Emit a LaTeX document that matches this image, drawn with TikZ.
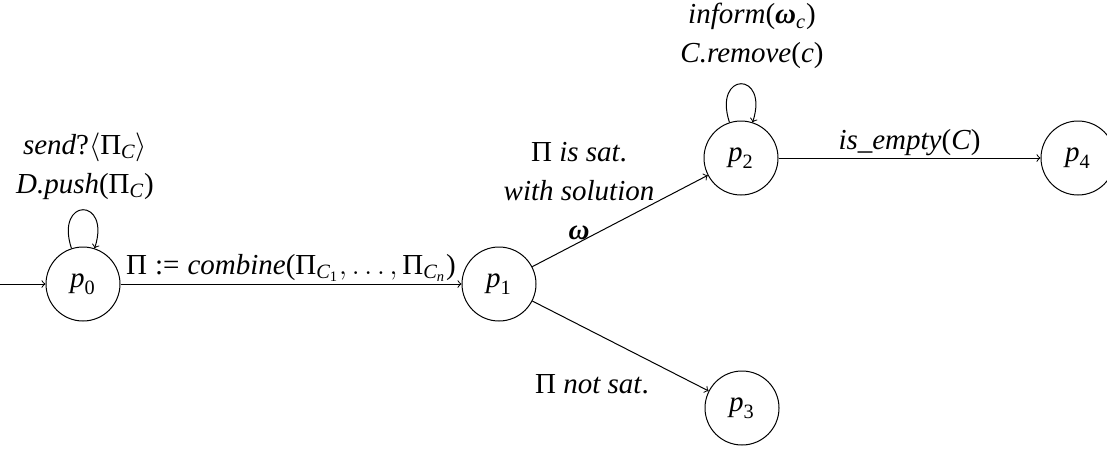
\documentclass[tikz,border=0pt]{standalone}
\usepackage{amsmath}
\usepackage{fontspec}
\setmainfont{Liberation Serif}[ItalicFont={Liberation Serif Italic},BoldFont={Liberation Serif Bold},BoldItalicFont={Liberation Serif Bold Italic}]
\newcommand\V[1]{\text{\itshape #1}}
\newcommand\U[1]{\text{\upshape #1}}
\newcommand\W{\text{\bfseries\itshape ω}}
\begin{document}
\begin{tikzpicture}[x=0.5pt,y=-0.5pt,
  state/.style={draw,circle,minimum size=37pt,inner sep=0pt,line width=0.5pt},
  conn/.style={->,line width=0.5pt},
  lbl/.style={align=center,inner sep=1pt},
  font=\fontsize{14.5}{19.3}\selectfont]
\useasboundingbox (0,0) rectangle (1107,450);
\node[state] (p0) at (83,284) {$\V{p}_{\U{0}}$};
\node[state] (p1) at (499,284) {$\V{p}_{\U{1}}$};
\node[state] (p2) at (741,158) {$\V{p}_{\U{2}}$};
\node[state] (p3) at (742,408) {$\V{p}_{\U{3}}$};
\node[state] (p4) at (1078,158) {$\V{p}_{\U{4}}$};
\coordinate (init) at (0,284);
\draw[conn] (init) -- (p0);
\draw[conn] (p0.108) .. controls +(108:27pt) and +(72:27pt) .. (p0.72);
\draw[conn] (p2.108) .. controls +(108:27pt) and +(72:27pt) .. (p2.72);
\draw[conn] (p0) -- node[midway,above,lbl] {$\U{Π}\mathrel{\U{:=}}\V{combine}\U{(}\U{Π}_{\V{C}_{\U{1}}},\ldots,\U{Π}_{\V{C}_{\V{n}}}\U{)}$} (p1);
\draw[conn] (p1) -- (p2);
\draw[conn] (p1) -- (p3);
\draw[conn] (p2) -- node[midway,above,lbl] {\textit{is\_empty}(\textit{C})} (p4);
\node[lbl] (l0) at (85,166) {$\V{send}\U{?}\langle\U{Π}_{\V{C}}\rangle$\\$\V{D.push}\U{(}\U{Π}_{\V{C}}\U{)}$};
\node[lbl] (l2) at (752,36) {$\V{inform}\U{(}\W_{\V{c}}\U{)}$\\\textit{C.remove}(\textit{c})};
\node[lbl] (lsat) at (579,191) {Π \textit{is sat}.\\\textit{with solution}\\$\W$};
\node[lbl] (lnot) at (592,384) {Π \textit{not sat}.};
\end{tikzpicture}
\end{document}
